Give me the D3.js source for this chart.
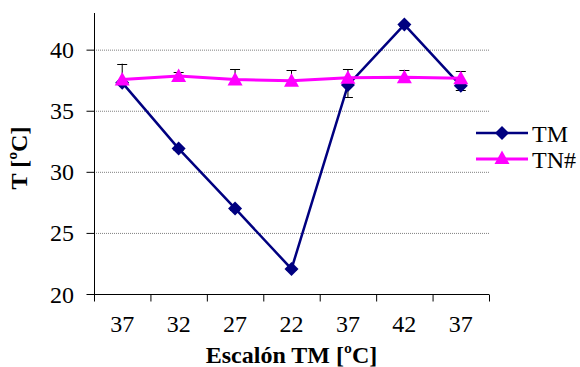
<!DOCTYPE html>
<html><head><meta charset="utf-8">
<script src="https://cdn.jsdelivr.net/npm/d3@7"></script>
</head><body style="margin:0">
<script>
const categories = ["37","32","27","22","37","42","37"];
const tmValues = [37.3, 31.9, 27.0, 22.05, 37.1, 42.05, 37.05];
const tmErrMinus = [0.15, 0.1, 0.1, 0.1, 1.0, 0.1, 0.35];
const tnValues = [37.55, 37.85, 37.55, 37.45, 37.7, 37.75, 37.65];
const tnErrPlus = [1.3, 0.35, 0.85, 0.85, 0.7, 0.6, 0.6];
const yTicks = [20, 25, 30, 35, 40];
const seriesNames = ["TM", "TN#"];

const W = 580, H = 367;
const svg = d3.select("body").append("svg").attr("width", W).attr("height", H)
  .style("display", "block").style("font-family", '"Liberation Serif"');
const pL = 94, pR = 489, pT = 13, pB = 294;
const x = d3.scaleBand().domain(d3.range(categories.length)).range([pL, pR]);
const y = d3.scaleLinear().domain([20, 43]).range([pB, pT]);
const styleText = sel => sel.style("font-family", d => '"Liberation Serif"').style("font-size", "24px").attr("fill", "#000");

// gridlines
svg.append("g").selectAll("line").data(yTicks.filter(t => t > 20)).join("line")
  .attr("x1", pL).attr("x2", pR).attr("y1", d => y(d) + 0.5).attr("y2", d => y(d) + 0.5)
  .attr("stroke", "#808080").attr("stroke-width", 1).attr("stroke-dasharray", "1,1");

// y axis (ticks from d3 axis, labels drawn as own texts)
const yAxis = svg.append("g").attr("transform", `translate(${pL + 0.5},0)`)
  .call(d3.axisLeft(y).tickValues(yTicks).tickSize(8).tickFormat("").tickSizeOuter(0));
yAxis.select(".domain").attr("d", `M0,${pT}V${pB + 0.5}`).attr("stroke", "#000");
yAxis.selectAll(".tick line").attr("stroke", "#000");
yAxis.selectAll(".tick text").remove();
svg.append("g").selectAll("text").data(yTicks).join("text")
  .attr("x", 74).attr("y", d => y(d) + 8.5).attr("text-anchor", "end")
  .call(styleText).text(d => d);

// x axis
const xg = svg.append("g").attr("transform", `translate(0,${pB + 0.5})`);
xg.append("line").attr("x1", pL).attr("x2", pR).attr("stroke", "#000");
const bounds = d3.range(categories.length + 1).map(i => i < categories.length ? x(i) : pR);
xg.selectAll("line.tk").data(bounds).join("line").attr("class", "tk")
  .attr("x1", d => d + 0.5).attr("x2", d => d + 0.5).attr("y1", 0).attr("y2", 7).attr("stroke", "#000");
xg.selectAll("text").data(categories).join("text")
  .attr("x", (d, i) => x(i) + x.bandwidth() / 2).attr("y", 37.5)
  .attr("text-anchor", "middle").call(styleText).text(d => d);

// titles
svg.append("text").attr("x", (pL + pR) / 2).attr("y", 363).attr("text-anchor", "middle")
  .call(styleText).style("font-weight", "bold").text("Escalón TM [ºC]");
svg.append("text").attr("transform", `translate(27,158) rotate(-90)`)
  .attr("text-anchor", "middle").call(styleText).style("font-weight", "bold").text("T [ºC]");

const cx = i => x(i) + x.bandwidth() / 2;
const navy = "#000080", mag = "#FF00FF";

// error bars
function errBars(vals, errs, dir) {
  const g = svg.append("g").attr("stroke", "#000").attr("stroke-width", 1);
  vals.forEach((v, i) => {
    const e = v + dir * errs[i];
    g.append("line").attr("x1", cx(i)).attr("x2", cx(i)).attr("y1", y(v)).attr("y2", y(e));
    g.append("line").attr("x1", cx(i) - 5).attr("x2", cx(i) + 5).attr("y1", Math.round(y(e)) + 0.5).attr("y2", Math.round(y(e)) + 0.5);
  });
}
errBars(tmValues, tmErrMinus, -1);
errBars(tnValues, tnErrPlus, 1);

// TM line
const line = d3.line().x((d, i) => cx(i)).y(d => y(d));
svg.append("path").datum(tmValues).attr("d", line).attr("fill", "none").attr("stroke", navy).attr("stroke-width", 2.5);
const diamond = d3.symbol().type(d3.symbolSquare).size(98);
svg.append("g").selectAll("path").data(tmValues).join("path")
  .attr("d", diamond).attr("transform", (d, i) => `translate(${cx(i)},${y(d)}) rotate(45)`).attr("fill", navy);

// TN line
svg.append("path").datum(tnValues).attr("d", line).attr("fill", "none").attr("stroke", mag).attr("stroke-width", 3);
const tri = "M0,-7.5L7.5,6L-7.5,6Z";
svg.append("g").selectAll("path").data(tnValues).join("path")
  .attr("d", tri).attr("transform", (d, i) => `translate(${cx(i)},${y(d)})`).attr("fill", mag);

// legend
const leg = svg.append("g");
[[navy, 133, "d"], [mag, 159, "t"]].forEach(([c, ly, m], k) => {
  leg.append("line").attr("x1", 476).attr("x2", 528).attr("y1", ly).attr("y2", ly).attr("stroke", c).attr("stroke-width", k ? 3 : 2.5);
  if (m === "d") leg.append("path").attr("d", diamond).attr("transform", `translate(502,${ly}) rotate(45)`).attr("fill", c);
  else leg.append("path").attr("d", tri).attr("transform", `translate(502,${ly - 1})`).attr("fill", c);
  leg.append("text").attr("x", 532).attr("y", ly + 8.5).call(styleText).text(seriesNames[k]);
});
</script>
</body></html>
